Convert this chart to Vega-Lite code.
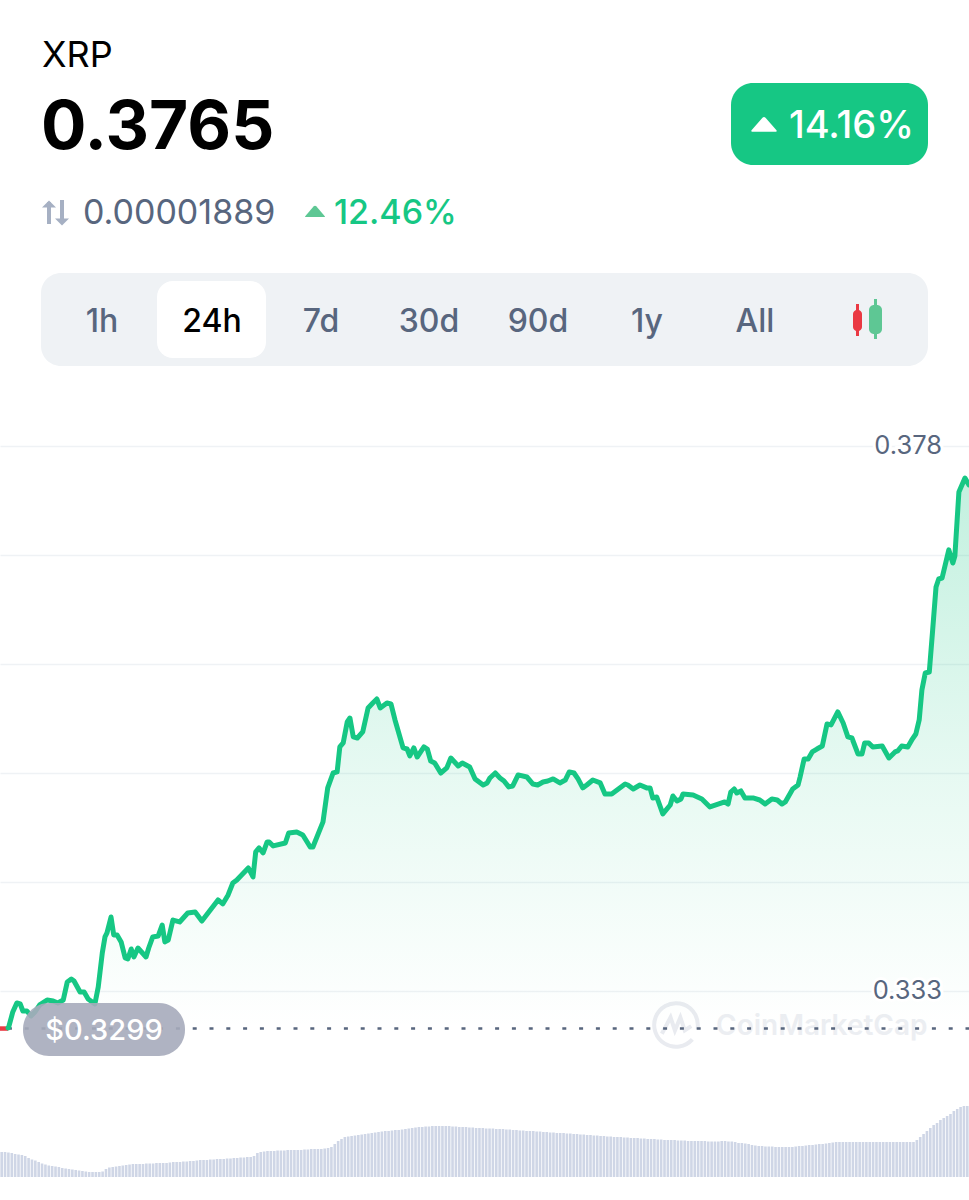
{"$schema":"https://vega.github.io/schema/vega-lite/v6.json","width":969,"height":1200,"padding":0,"autosize":{"type":"none"},"background":"#ffffff","config":{"view":{"stroke":null},"font":"Inter"},
"datasets":{
"prices":[{"t":12,"p":0.32995},{"t":13,"p":0.33003},{"t":19,"p":0.33127},{"t":25,"p":0.33201},{"t":30,"p":0.33193},{"t":34,"p":0.33135},{"t":40,"p":0.33135},{"t":46,"p":0.33094},{"t":52,"p":0.33127},{"t":59,"p":0.33185},{"t":70,"p":0.33226},{"t":79,"p":0.33218},{"t":86,"p":0.33201},{"t":94,"p":0.33226},{"t":100,"p":0.33375},{"t":106,"p":0.33399},{"t":110,"p":0.33383},{"t":119,"p":0.33292},{"t":125,"p":0.33292},{"t":131,"p":0.33234},{"t":141,"p":0.33193},{"t":146,"p":0.33333},{"t":152,"p":0.33614},{"t":156,"p":0.33746},{"t":159,"p":0.33779},{"t":165,"p":0.33911},{"t":169,"p":0.33763},{"t":174,"p":0.33763},{"t":180,"p":0.33705},{"t":186,"p":0.33573},{"t":190,"p":0.33565},{"t":195,"p":0.33647},{"t":199,"p":0.33581},{"t":205,"p":0.33655},{"t":217,"p":0.33581},{"t":221,"p":0.33655},{"t":227,"p":0.33746},{"t":235,"p":0.33754},{"t":241,"p":0.33845},{"t":245,"p":0.33705},{"t":250,"p":0.33721},{"t":257,"p":0.33886},{"t":267,"p":0.3387},{"t":279,"p":0.33944},{"t":290,"p":0.33953},{"t":300,"p":0.33878},{"t":324,"p":0.34052},{"t":331,"p":0.34019},{"t":339,"p":0.34093},{"t":346,"p":0.34192},{"t":352,"p":0.34217},{"t":369,"p":0.34316},{"t":376,"p":0.34242},{"t":380,"p":0.34448},{"t":385,"p":0.34481},{"t":391,"p":0.3444},{"t":397,"p":0.34531},{"t":400,"p":0.34531},{"t":406,"p":0.34498},{"t":424,"p":0.34522},{"t":429,"p":0.34605},{"t":441,"p":0.34613},{"t":450,"p":0.34588},{"t":461,"p":0.34489},{"t":465,"p":0.34489},{"t":480,"p":0.34696},{"t":487,"p":0.34977},{"t":495,"p":0.351},{"t":501,"p":0.35109},{"t":505,"p":0.35315},{"t":510,"p":0.35348},{"t":516,"p":0.35521},{"t":520,"p":0.35554},{"t":525,"p":0.35398},{"t":531,"p":0.35389},{"t":539,"p":0.35439},{"t":547,"p":0.35637},{"t":554,"p":0.35678},{"t":560,"p":0.35711},{"t":565,"p":0.35637},{"t":575,"p":0.35678},{"t":581,"p":0.3567},{"t":587,"p":0.35538},{"t":599,"p":0.35307},{"t":605,"p":0.35298},{"t":609,"p":0.35241},{"t":615,"p":0.35307},{"t":620,"p":0.35232},{"t":630,"p":0.35315},{"t":635,"p":0.35298},{"t":640,"p":0.35199},{"t":646,"p":0.35183},{"t":655,"p":0.351},{"t":664,"p":0.35142},{"t":670,"p":0.35224},{"t":681,"p":0.35158},{"t":687,"p":0.35183},{"t":698,"p":0.3515},{"t":706,"p":0.35051},{"t":710,"p":0.35034},{"t":718,"p":0.35001},{"t":724,"p":0.35018},{"t":728,"p":0.35059},{"t":736,"p":0.351},{"t":743,"p":0.35059},{"t":749,"p":0.35034},{"t":756,"p":0.34985},{"t":762,"p":0.34993},{"t":770,"p":0.35084},{"t":783,"p":0.35067},{"t":792,"p":0.35009},{"t":799,"p":0.35001},{"t":807,"p":0.35026},{"t":814,"p":0.35034},{"t":822,"p":0.35051},{"t":832,"p":0.35018},{"t":840,"p":0.35042},{"t":846,"p":0.35109},{"t":853,"p":0.351},{"t":859,"p":0.35051},{"t":866,"p":0.34977},{"t":872,"p":0.35001},{"t":881,"p":0.35042},{"t":892,"p":0.35018},{"t":899,"p":0.34927},{"t":909,"p":0.34927},{"t":917,"p":0.3496},{"t":929,"p":0.35009},{"t":933,"p":0.35001},{"t":941,"p":0.34968},{"t":951,"p":0.35001},{"t":961,"p":0.34977},{"t":966,"p":0.34977},{"t":970,"p":0.34894},{"t":976,"p":0.34902},{"t":985,"p":0.34762},{"t":996,"p":0.34836},{"t":1000,"p":0.3491},{"t":1006,"p":0.34869},{"t":1012,"p":0.34886},{"t":1015,"p":0.34927},{"t":1030,"p":0.34919},{"t":1043,"p":0.34886},{"t":1055,"p":0.3482},{"t":1077,"p":0.34861},{"t":1082,"p":0.34844},{"t":1086,"p":0.34943},{"t":1091,"p":0.34968},{"t":1095,"p":0.34935},{"t":1101,"p":0.34952},{"t":1107,"p":0.34894},{"t":1119,"p":0.34894},{"t":1129,"p":0.34877},{"t":1137,"p":0.34844},{"t":1147,"p":0.34886},{"t":1155,"p":0.34877},{"t":1162,"p":0.34844},{"t":1167,"p":0.34861},{"t":1178,"p":0.34968},{"t":1186,"p":0.35001},{"t":1189,"p":0.35067},{"t":1195,"p":0.35216},{"t":1201,"p":0.35216},{"t":1207,"p":0.35274},{"t":1214,"p":0.35298},{"t":1222,"p":0.35323},{"t":1229,"p":0.35505},{"t":1235,"p":0.35497},{"t":1245,"p":0.35604},{"t":1253,"p":0.35513},{"t":1260,"p":0.35398},{"t":1266,"p":0.35389},{"t":1275,"p":0.35257},{"t":1281,"p":0.35257},{"t":1285,"p":0.35348},{"t":1291,"p":0.35348},{"t":1297,"p":0.35315},{"t":1311,"p":0.35323},{"t":1321,"p":0.35224},{"t":1330,"p":0.35274},{"t":1334,"p":0.35282},{"t":1340,"p":0.35323},{"t":1349,"p":0.35315},{"t":1355,"p":0.35373},{"t":1361,"p":0.35422},{"t":1366,"p":0.35538},{"t":1370,"p":0.35786},{"t":1375,"p":0.35926},{"t":1381,"p":0.35934},{"t":1386,"p":0.36281},{"t":1391,"p":0.36636},{"t":1395,"p":0.36702},{"t":1400,"p":0.3671},{"t":1410,"p":0.36942},{"t":1416,"p":0.36834},{"t":1419,"p":0.36892},{"t":1425,"p":0.37421},{"t":1434,"p":0.37536},{"t":1440,"p":0.37478}],
"openLeg":[{"t":0,"p":0.3299},{"t":12,"p":0.3299}],
"open":[{"p":0.3299,"label":"$0.3299"}],
"ticks":[{"p":0.378,"label":"0.378"},{"p":0.333,"label":"0.333"}],
"volume":[{"t":2.5,"v":25},{"t":7.5,"v":25},{"t":12.5,"v":24.5},{"t":17.5,"v":24},{"t":22.5,"v":23},{"t":27.5,"v":22.5},{"t":32.5,"v":22},{"t":37.5,"v":21},{"t":42.5,"v":19},{"t":47.5,"v":17.5},{"t":52.5,"v":16.5},{"t":57.5,"v":15},{"t":62.5,"v":13.5},{"t":67.5,"v":12.5},{"t":72.5,"v":11.5},{"t":77.5,"v":11},{"t":82.5,"v":10.5},{"t":87.5,"v":10},{"t":92.5,"v":9},{"t":97.5,"v":8.5},{"t":102.5,"v":8},{"t":107.5,"v":7.5},{"t":112.5,"v":7},{"t":117.5,"v":6.5},{"t":122.5,"v":6},{"t":127.5,"v":5.5},{"t":132.5,"v":5},{"t":137.5,"v":5},{"t":142.5,"v":5},{"t":147.5,"v":5},{"t":152.5,"v":5.5},{"t":157.5,"v":8},{"t":162.5,"v":9.5},{"t":167.5,"v":10},{"t":172.5,"v":10.5},{"t":177.5,"v":11},{"t":182.5,"v":11.5},{"t":187.5,"v":12},{"t":192.5,"v":12.5},{"t":197.5,"v":13},{"t":202.5,"v":13},{"t":207.5,"v":13},{"t":212.5,"v":13},{"t":217.5,"v":13.5},{"t":222.5,"v":13.5},{"t":227.5,"v":13.5},{"t":232.5,"v":14},{"t":237.5,"v":14},{"t":242.5,"v":14},{"t":247.5,"v":14},{"t":252.5,"v":14.5},{"t":257.5,"v":15},{"t":262.5,"v":15},{"t":267.5,"v":15},{"t":272.5,"v":15.5},{"t":277.5,"v":15.5},{"t":282.5,"v":16},{"t":287.5,"v":16},{"t":292.5,"v":16.5},{"t":297.5,"v":17},{"t":302.5,"v":17},{"t":307.5,"v":17},{"t":312.5,"v":17.5},{"t":317.5,"v":17.5},{"t":322.5,"v":18},{"t":327.5,"v":18},{"t":332.5,"v":18},{"t":337.5,"v":18.5},{"t":342.5,"v":18.5},{"t":347.5,"v":19},{"t":352.5,"v":19},{"t":357.5,"v":19.5},{"t":362.5,"v":19.5},{"t":367.5,"v":20},{"t":372.5,"v":20},{"t":377.5,"v":21},{"t":382.5,"v":24},{"t":387.5,"v":25},{"t":392.5,"v":25.5},{"t":397.5,"v":26},{"t":402.5,"v":26},{"t":407.5,"v":26},{"t":412.5,"v":26.5},{"t":417.5,"v":26.5},{"t":422.5,"v":26.5},{"t":427.5,"v":27},{"t":432.5,"v":27},{"t":437.5,"v":27},{"t":442.5,"v":27},{"t":447.5,"v":27},{"t":452.5,"v":27.5},{"t":457.5,"v":27.5},{"t":462.5,"v":28},{"t":467.5,"v":28},{"t":472.5,"v":28},{"t":477.5,"v":28},{"t":482.5,"v":28.5},{"t":487.5,"v":29},{"t":492.5,"v":30},{"t":497.5,"v":33},{"t":502.5,"v":36},{"t":507.5,"v":38},{"t":512.5,"v":40},{"t":517.5,"v":40.5},{"t":522.5,"v":41},{"t":527.5,"v":41.5},{"t":532.5,"v":42},{"t":537.5,"v":42.5},{"t":542.5,"v":43},{"t":547.5,"v":43.5},{"t":552.5,"v":44},{"t":557.5,"v":44.5},{"t":562.5,"v":45},{"t":567.5,"v":45.5},{"t":572.5,"v":46},{"t":577.5,"v":46},{"t":582.5,"v":46.5},{"t":587.5,"v":47},{"t":592.5,"v":47},{"t":597.5,"v":47.5},{"t":602.5,"v":48},{"t":607.5,"v":48.5},{"t":612.5,"v":49},{"t":617.5,"v":49.5},{"t":622.5,"v":50},{"t":627.5,"v":50},{"t":632.5,"v":50.5},{"t":637.5,"v":50.5},{"t":642.5,"v":51},{"t":647.5,"v":51},{"t":652.5,"v":51},{"t":657.5,"v":51},{"t":662.5,"v":51},{"t":667.5,"v":51},{"t":672.5,"v":50.5},{"t":677.5,"v":50.5},{"t":682.5,"v":50},{"t":687.5,"v":50},{"t":692.5,"v":50},{"t":697.5,"v":49.5},{"t":702.5,"v":49.5},{"t":707.5,"v":49},{"t":712.5,"v":49},{"t":717.5,"v":49},{"t":722.5,"v":48.5},{"t":727.5,"v":48.5},{"t":732.5,"v":48.5},{"t":737.5,"v":48},{"t":742.5,"v":48},{"t":747.5,"v":48},{"t":752.5,"v":47.5},{"t":757.5,"v":47.5},{"t":762.5,"v":47},{"t":767.5,"v":47},{"t":772.5,"v":46.5},{"t":777.5,"v":46.5},{"t":782.5,"v":46},{"t":787.5,"v":46},{"t":792.5,"v":46},{"t":797.5,"v":45.5},{"t":802.5,"v":45.5},{"t":807.5,"v":45},{"t":812.5,"v":45},{"t":817.5,"v":44.5},{"t":822.5,"v":44.5},{"t":827.5,"v":44},{"t":832.5,"v":44},{"t":837.5,"v":44},{"t":842.5,"v":43.5},{"t":847.5,"v":43.5},{"t":852.5,"v":43},{"t":857.5,"v":43},{"t":862.5,"v":42.5},{"t":867.5,"v":42.5},{"t":872.5,"v":42},{"t":877.5,"v":42},{"t":882.5,"v":41.5},{"t":887.5,"v":41.5},{"t":892.5,"v":41},{"t":897.5,"v":41},{"t":902.5,"v":40.5},{"t":907.5,"v":40.5},{"t":912.5,"v":40},{"t":917.5,"v":40},{"t":922.5,"v":40},{"t":927.5,"v":39.5},{"t":932.5,"v":39.5},{"t":937.5,"v":39},{"t":942.5,"v":39},{"t":947.5,"v":39},{"t":952.5,"v":38.5},{"t":957.5,"v":38.5},{"t":962.5,"v":38},{"t":967.5,"v":38},{"t":972.5,"v":38},{"t":977.5,"v":37.5},{"t":982.5,"v":37.5},{"t":987.5,"v":37},{"t":992.5,"v":37},{"t":997.5,"v":37},{"t":1002.5,"v":37},{"t":1007.5,"v":36.5},{"t":1012.5,"v":36.5},{"t":1017.5,"v":36.5},{"t":1022.5,"v":36},{"t":1027.5,"v":36},{"t":1032.5,"v":36},{"t":1037.5,"v":36},{"t":1042.5,"v":36},{"t":1047.5,"v":36},{"t":1052.5,"v":35.5},{"t":1057.5,"v":35.5},{"t":1062.5,"v":35.5},{"t":1067.5,"v":35.5},{"t":1072.5,"v":36},{"t":1077.5,"v":36},{"t":1082.5,"v":35.5},{"t":1087.5,"v":35.5},{"t":1092.5,"v":35},{"t":1097.5,"v":34},{"t":1102.5,"v":34},{"t":1107.5,"v":33.5},{"t":1112.5,"v":33},{"t":1117.5,"v":32},{"t":1122.5,"v":31.5},{"t":1127.5,"v":31},{"t":1132.5,"v":31},{"t":1137.5,"v":30.5},{"t":1142.5,"v":30.5},{"t":1147.5,"v":30.5},{"t":1152.5,"v":30},{"t":1157.5,"v":30},{"t":1162.5,"v":30},{"t":1167.5,"v":30},{"t":1172.5,"v":30},{"t":1177.5,"v":30},{"t":1182.5,"v":30.5},{"t":1187.5,"v":31},{"t":1192.5,"v":31},{"t":1197.5,"v":31.5},{"t":1202.5,"v":32},{"t":1207.5,"v":32},{"t":1212.5,"v":32.5},{"t":1217.5,"v":33},{"t":1222.5,"v":33},{"t":1227.5,"v":33.5},{"t":1232.5,"v":34},{"t":1237.5,"v":34.5},{"t":1242.5,"v":35},{"t":1247.5,"v":35},{"t":1252.5,"v":35},{"t":1257.5,"v":35},{"t":1262.5,"v":35},{"t":1267.5,"v":35},{"t":1272.5,"v":35},{"t":1277.5,"v":35},{"t":1282.5,"v":35},{"t":1287.5,"v":35},{"t":1292.5,"v":35},{"t":1297.5,"v":35},{"t":1302.5,"v":35},{"t":1307.5,"v":35},{"t":1312.5,"v":35},{"t":1317.5,"v":35},{"t":1322.5,"v":35},{"t":1327.5,"v":35},{"t":1332.5,"v":35},{"t":1337.5,"v":35},{"t":1342.5,"v":35},{"t":1347.5,"v":35},{"t":1352.5,"v":35},{"t":1357.5,"v":35},{"t":1362.5,"v":37},{"t":1367.5,"v":40},{"t":1372.5,"v":43},{"t":1377.5,"v":46},{"t":1382.5,"v":49},{"t":1387.5,"v":52},{"t":1392.5,"v":54},{"t":1397.5,"v":57},{"t":1402.5,"v":59},{"t":1407.5,"v":61},{"t":1412.5,"v":63},{"t":1417.5,"v":66},{"t":1422.5,"v":68},{"t":1427.5,"v":70},{"t":1432.5,"v":71},{"t":1437.5,"v":71}]
},
"resolve":{"scale":{"y":"independent"}},
"layer":[
{"data":{"name":"volume"},"mark":{"type":"bar","size":2.6,"color":"#cfd6e6"},"encoding":{"x":{"field":"t","type":"quantitative","scale":{"domain":[0,1440],"nice":false,"zero":false,"padding":0},"axis":null},"y":{"field":"v","type":"quantitative","scale":{"domain":[-23,1177],"nice":false,"zero":false},"axis":null},"y2":{"datum":0}}},
{"data":{"values":[{"label":"CoinMarketCap"}]},"mark":{"type":"text","x":716,"y":1027,"align":"left","baseline":"middle","fontSize":28,"fontWeight":600,"font":"Inter","color":"#eceef2"},"encoding":{"text":{"field":"label"}}},
{"data":{"values":[{"label":"logo"}]},"mark":{"type":"point","x":676,"y":1025,"size":1900,"filled":false,"stroke":"#e9ebf0","strokeWidth":4,"opacity":1,"shape":"M0.75,0.66A1,1,0,1,1,1,0L1,0.2M-0.65,0.4L-0.25,-0.35L-0.05,0.25L0.2,-0.35L0.4,0.25L0.7,0.05"},"encoding":{}},
{"layer":[
{"data":{"name":"prices"},"mark":{"type":"area","color":{"gradient":"linear","x1":0,"y1":0,"x2":0,"y2":1,"stops":[{"offset":0,"color":"rgba(22,199,132,0.26)"},{"offset":0.55,"color":"rgba(22,199,132,0.1)"},{"offset":1,"color":"rgba(22,199,132,0)"}]}},"encoding":{"x":{"field":"t","type":"quantitative","scale":{"domain":[0,1440],"nice":false,"zero":false,"padding":0},"axis":null},"y":{"field":"p","type":"quantitative","scale":{"domain":[0.315743,0.414826],"nice":false,"zero":false},"axis":{"orient":"right","values":[0.333,0.342,0.351,0.36,0.369,0.378],"grid":true,"gridColor":"#eff2f5","gridWidth":1.5,"domain":false,"ticks":false,"labels":false,"title":null}},"y2":{"datum":0.3299}}},
{"data":{"name":"ticks"},"mark":{"type":"text","x":942,"align":"right","baseline":"middle","fontSize":25.5,"font":"Inter","fill":"#ffffff","stroke":"#ffffff","strokeWidth":6},"encoding":{"y":{"field":"p","type":"quantitative"},"text":{"field":"label"}}},
{"data":{"name":"ticks"},"mark":{"type":"text","x":942,"align":"right","baseline":"middle","fontSize":25.5,"font":"Inter","color":"#58667e"},"encoding":{"y":{"field":"p","type":"quantitative"},"text":{"field":"label"}}},
{"data":{"name":"open"},"mark":{"type":"rule","color":"#58667e","strokeWidth":2.5,"strokeDash":[4,12.8],"strokeDashOffset":0.5},"encoding":{"y":{"field":"p","type":"quantitative"}}},
{"data":{"name":"openLeg"},"mark":{"type":"line","color":"#ea3943","strokeWidth":4.5},"encoding":{"x":{"field":"t","type":"quantitative"},"y":{"field":"p","type":"quantitative"}}},
{"data":{"name":"prices"},"mark":{"type":"line","color":"#16c784","strokeWidth":5,"strokeJoin":"round","strokeCap":"round"},"encoding":{"x":{"field":"t","type":"quantitative"},"y":{"field":"p","type":"quantitative"}}}
]},
{"data":{"values":[{"a":1}]},"mark":{"type":"rect","x":23,"x2":185,"y":1003,"y2":1056,"cornerRadius":26,"fill":"#a6abbb","opacity":0.9},"encoding":{}},
{"data":{"name":"open"},"mark":{"type":"text","x":104,"y":1031,"align":"center","baseline":"middle","fontSize":29,"font":"Inter","fontWeight":500,"color":"#ffffff"},"encoding":{"text":{"field":"label"}}},
{"data":{"values":[{"label":"XRP"}]},"mark":{"type":"text","x":42,"y":56,"align":"left","baseline":"middle","fontSize":36,"font":"Inter","fontWeight":400,"color":"#000000"},"encoding":{"text":{"field":"label"}}},
{"data":{"values":[{"label":"0.3765"}]},"mark":{"type":"text","x":41,"y":129,"align":"left","baseline":"middle","fontSize":67.5,"font":"Inter","fontWeight":700,"color":"#000000"},"encoding":{"text":{"field":"label"}}},
{"data":{"values":[{"a":1}]},"mark":{"type":"rect","x":731,"x2":928,"y":83,"y2":165,"cornerRadius":22,"fill":"#16c784"},"encoding":{}},
{"data":{"values":[{"a":1}]},"mark":{"type":"point","x":764,"y":124,"size":625,"filled":true,"fill":"#ffffff","opacity":1,"shape":"M-1,0.5L-0.12,-0.5Q0,-0.62,0.12,-0.5L1,0.5Q1.05,0.62,0.9,0.62L-0.9,0.62Q-1.05,0.62,-1,0.5Z"},"encoding":{}},
{"data":{"values":[{"label":"14.16%"}]},"mark":{"type":"text","x":914,"y":127,"align":"right","baseline":"middle","fontSize":38,"font":"Inter","fontWeight":500,"color":"#ffffff"},"encoding":{"text":{"field":"label"}}},
{"data":{"values":[{"a":1}]},"mark":{"type":"rect","x":47,"x2":51,"y":202,"y2":224,"fill":"#a6b0c3"},"encoding":{}},
{"data":{"values":[{"a":1}]},"mark":{"type":"rect","x":60,"x2":64,"y":200,"y2":222,"fill":"#a6b0c3"},"encoding":{}},
{"data":{"values":[{"a":1}]},"mark":{"type":"point","x":49,"y":204,"size":196,"filled":true,"fill":"#a6b0c3","opacity":1,"shape":"M-1,0.5L0,-0.5L1,0.5Z"},"encoding":{}},
{"data":{"values":[{"a":1}]},"mark":{"type":"point","x":62,"y":222,"size":196,"filled":true,"fill":"#a6b0c3","opacity":1,"shape":"M-1,-0.5L0,0.5L1,-0.5Z"},"encoding":{}},
{"data":{"values":[{"label":"0.00001889"}]},"mark":{"type":"text","x":83,"y":214,"align":"left","baseline":"middle","fontSize":34,"font":"Inter","color":"#58667e"},"encoding":{"text":{"field":"label"}}},
{"data":{"values":[{"a":1}]},"mark":{"type":"point","x":315,"y":211,"size":400,"filled":true,"fill":"#5ec794","opacity":1,"shape":"M-1,0.55L-0.15,-0.45Q0,-0.6,0.15,-0.45L1,0.55Q1,0.6,0.9,0.6L-0.9,0.6Q-1,0.6,-1,0.55Z"},"encoding":{}},
{"data":{"values":[{"label":"12.46%"}]},"mark":{"type":"text","x":334,"y":214,"align":"left","baseline":"middle","fontSize":34,"font":"Inter","fontWeight":500,"color":"#16c784"},"encoding":{"text":{"field":"label"}}},
{"data":{"values":[{"a":1}]},"mark":{"type":"rect","x":41,"x2":928,"y":273,"y2":366,"cornerRadius":20,"fill":"#eff2f5"},"encoding":{}},
{"data":{"values":[{"a":1}]},"mark":{"type":"rect","x":157,"x2":266,"y":281,"y2":358,"cornerRadius":16,"fill":"#ffffff"},"encoding":{}},
{"data":{"values":[{"label":"1h"}]},"mark":{"type":"text","x":102,"y":322,"align":"center","baseline":"middle","fontSize":32,"font":"Inter","fontWeight":500,"color":"#58667e"},"encoding":{"text":{"field":"label"}}},
{"data":{"values":[{"label":"24h"}]},"mark":{"type":"text","x":212,"y":322,"align":"center","baseline":"middle","fontSize":32,"font":"Inter","fontWeight":500,"color":"#000000"},"encoding":{"text":{"field":"label"}}},
{"data":{"values":[{"label":"7d"}]},"mark":{"type":"text","x":321,"y":322,"align":"center","baseline":"middle","fontSize":32,"font":"Inter","fontWeight":500,"color":"#58667e"},"encoding":{"text":{"field":"label"}}},
{"data":{"values":[{"label":"30d"}]},"mark":{"type":"text","x":429,"y":322,"align":"center","baseline":"middle","fontSize":32,"font":"Inter","fontWeight":500,"color":"#58667e"},"encoding":{"text":{"field":"label"}}},
{"data":{"values":[{"label":"90d"}]},"mark":{"type":"text","x":538,"y":322,"align":"center","baseline":"middle","fontSize":32,"font":"Inter","fontWeight":500,"color":"#58667e"},"encoding":{"text":{"field":"label"}}},
{"data":{"values":[{"label":"1y"}]},"mark":{"type":"text","x":647,"y":322,"align":"center","baseline":"middle","fontSize":32,"font":"Inter","fontWeight":500,"color":"#58667e"},"encoding":{"text":{"field":"label"}}},
{"data":{"values":[{"label":"All"}]},"mark":{"type":"text","x":755,"y":322,"align":"center","baseline":"middle","fontSize":32,"font":"Inter","fontWeight":500,"color":"#58667e"},"encoding":{"text":{"field":"label"}}},
{"data":{"values":[{"a":1}]},"mark":{"type":"rect","x":856,"x2":859,"y":304,"y2":336,"fill":"#ea3943"},"encoding":{}},
{"data":{"values":[{"a":1}]},"mark":{"type":"rect","x":853,"x2":862,"y":310,"y2":331,"cornerRadius":4,"fill":"#ea3943"},"encoding":{}},
{"data":{"values":[{"a":1}]},"mark":{"type":"rect","x":874,"x2":877,"y":299,"y2":339,"fill":"#5ec794"},"encoding":{}},
{"data":{"values":[{"a":1}]},"mark":{"type":"rect","x":869,"x2":882,"y":305,"y2":334,"cornerRadius":5,"fill":"#5ec794"},"encoding":{}}
]}
